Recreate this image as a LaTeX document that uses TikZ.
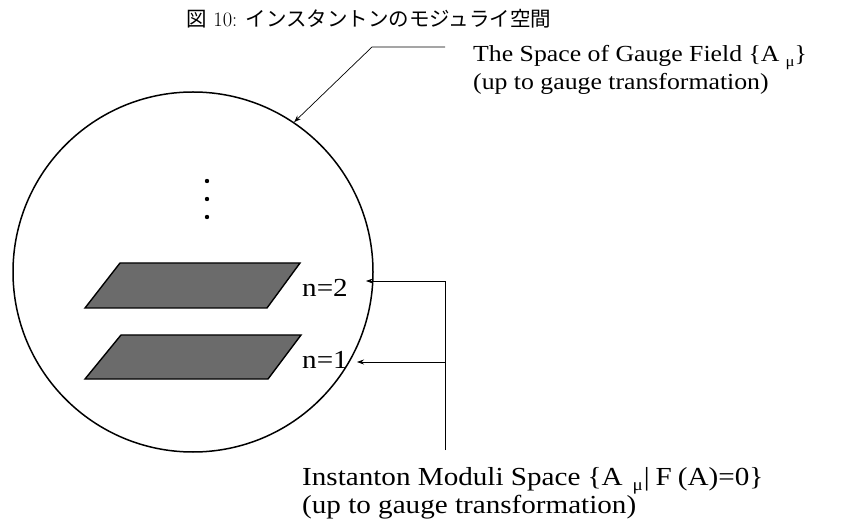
\documentclass[tikz,border=0pt]{standalone}
\usepackage{fontspec}
\setmainfont[FakeStretch=1.12]{Liberation Serif}
\newfontfamily\jpfont{Noto Sans CJK JP}
\newfontfamily\lmfont{Latin Modern Roman}
\usetikzlibrary{arrows.meta}
\newcommand{\submu}[1]{\raisebox{-0.45ex}{\fontsize{#1}{#1}\selectfont μ}}
\tikzset{
  lbl/.style={anchor=base west, inner sep=0pt, font=\fontsize{26}{30}\selectfont},
  toplbl/.style={anchor=base west, inner sep=0pt, font=\fontsize{23}{27}\selectfont},
  sheet/.style={draw=black, line width=1.4pt, fill=black!58, line join=miter},
  conn/.style={draw=black, line width=0.7pt},
  tip/.style={-{Stealth[length=7pt,width=5pt]}},
}
\begin{document}
\begin{tikzpicture}[x=1pt,y=-1pt]
\useasboundingbox (0,0) rectangle (851,526);
% title
\node[inner sep=0pt, font=\fontsize{20.5}{24}\selectfont] (title) at (369,19)
  {\jpfont 図\lmfont\ 10: \jpfont インスタントンのモジュライ空間};
% big circle
\node[circle, draw, line width=1.5pt, minimum size=360pt, inner sep=0pt] (space) at (193,272) {};
% dots
\foreach \yy in {181,199,217}
  \fill (207,\yy) circle (2.2pt);
% sheets
\draw[sheet] (120,263) -- (300,263) -- (267,308) -- (85,308) -- cycle;
\draw[sheet] (121,335) -- (301,335) -- (268,379) -- (85,379) -- cycle;
\node[lbl] (n2) at (302,297) {n=2};
\node[lbl] (n1) at (302,368) {n=1};
% top label
\node[toplbl] (top1) at (473,62) {The Space of Gauge Field \{A\hspace{6pt}\submu{15}\}};
\node[toplbl] (top2) at (473,90) {(up to gauge transformation)};
% bottom label
\node[lbl] (bot1) at (302,485) {Instanton Moduli Space \{A\hspace{10pt}\submu{17}\hspace{1pt}|\hspace{6pt}F\hspace{6pt}(A)=0\}};
\node[lbl] (bot2) at (302,513) {(up to gauge transformation)};
% connectors
\coordinate (kneeT) at (372,47);
\coordinate (endT) at (445,47);
\draw[conn, tip] (endT) -- (kneeT) -- (space.56.8);
\coordinate (j2) at (445,281);
\coordinate (j1) at (445,362);
\coordinate (jb) at (445,450);
\coordinate (t2) at (366,281);
\coordinate (t1) at (357,362);
\draw[conn] (jb) -- (j2);
\draw[conn, tip] (j2) -- (t2);
\draw[conn, tip] (j1) -- (t1);
\end{tikzpicture}
\end{document}
